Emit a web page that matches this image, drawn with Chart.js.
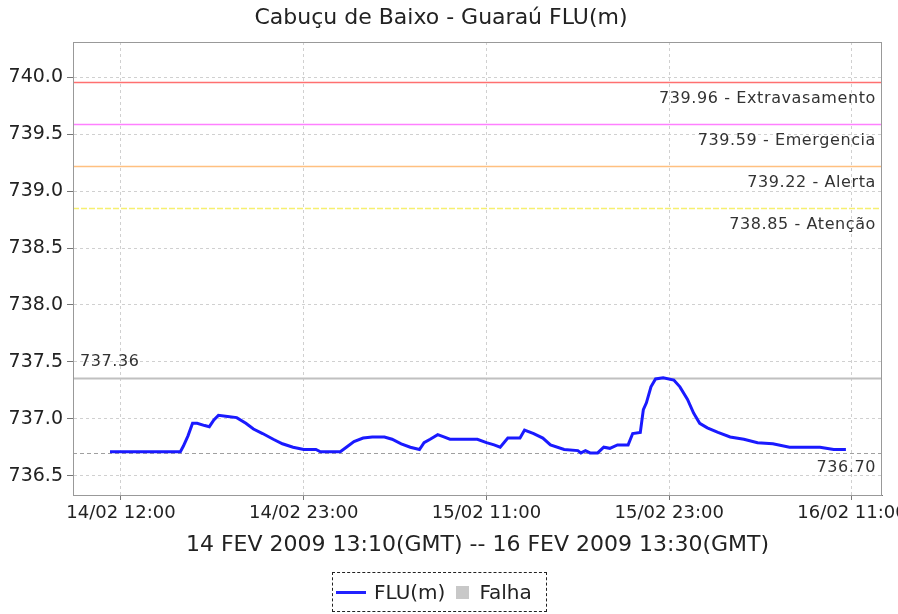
<!DOCTYPE html>
<html>
<head>
<meta charset="utf-8">
<script src="https://cdn.jsdelivr.net/npm/chart.js@4"></script>
<style>
  body { margin: 0; background: #fff; font-family: "DejaVu Sans", sans-serif; overflow: hidden; }
  #wrap { position: relative; width: 898px; height: 614px; }
  #legend {
    position: absolute; left: 332px; top: 572px; width: 213px; height: 38px;
    border: 1px dashed #222; display: flex; align-items: center;
    font-size: 20px; color: #222; white-space: nowrap;
  }
  #legend .ln { display: inline-block; width: 30px; height: 3px; background: #2222ff; margin: 0 8px 0 3px; }
  #legend .sq { display: inline-block; width: 13px; height: 13px; background: #c8c8c8; margin: 0 10px 0 11px; }
</style>
</head>
<body>
<div id="wrap">
  <canvas id="chart" width="898" height="614"></canvas>
  <div id="legend"><span class="ln"></span>FLU(m)<span class="sq"></span>Falha</div>
</div>
<script>
// hours after 14/02 12:00 (local time)
const hours = [-0.72, 0.5, 2, 3.9, 4.1, 4.4, 4.7, 5.0, 5.5, 5.8, 6.1, 6.4, 7.0, 7.6, 8.2, 8.7, 9.3, 10.0, 10.6, 11.3,
  12.0, 12.8, 13.1, 14.4, 14.8, 15.3, 15.9, 16.5, 17.3, 17.8, 18.4, 19.0, 19.6, 19.9, 20.3, 20.8, 21.2, 21.6, 22.5, 23.4,
  24.0, 24.5, 24.9, 25.4, 26.2, 26.5, 27.1, 27.7, 28.2, 29.1, 30.0, 30.2, 30.5, 30.8, 31.3, 31.7, 32.1, 32.6, 33.3, 33.6,
  34.1, 34.3, 34.5, 34.8, 35.1, 35.6, 36.3, 36.7, 37.2, 37.6, 38.0, 38.5, 39.2, 40.0, 40.9, 41.8, 42.8, 43.9, 45.9, 46.8, 47.6];
const levels = [736.71, 736.71, 736.71, 736.71, 736.76, 736.85, 736.96, 736.96, 736.94, 736.93, 736.99, 737.03, 737.02, 737.01, 736.96, 736.91, 736.87, 736.82, 736.78, 736.75,
  736.73, 736.73, 736.71, 736.71, 736.75, 736.80, 736.83, 736.84, 736.84, 736.82, 736.78, 736.75, 736.73, 736.79, 736.82, 736.86, 736.84, 736.82, 736.82, 736.82,
  736.79, 736.77, 736.75, 736.83, 736.83, 736.90, 736.87, 736.83, 736.77, 736.73, 736.72, 736.70, 736.72, 736.70, 736.70, 736.75, 736.74, 736.77, 736.77, 736.87,
  736.88, 737.08, 737.14, 737.28, 737.35, 737.36, 737.34, 737.28, 737.17, 737.05, 736.96, 736.92, 736.88, 736.84, 736.82, 736.79, 736.78, 736.75, 736.75, 736.73, 736.73];

const xTickHours = [0, 12, 24, 36, 48];
const xTickLabels = ["14/02 12:00", "14/02 23:00", "15/02 11:00", "15/02 23:00", "16/02 11:00"];
const yTicks = [736.5, 737.0, 737.5, 738.0, 738.5, 739.0, 739.5, 740.0];

const limitValues = [739.96, 739.59, 739.22, 738.85];
const limitNames = ["Extravasamento", "Emergencia", "Alerta", "Atenção"];
const limitColors = ["#ff7070", "#ff80ff", "#ffc080", "#f6f070"];
const maxLevel = 737.36;
const minLevel = 736.70;

const points = hours.map((h, i) => ({ x: h, y: levels[i] }));

// threshold lines, labels and plot frame
const refLines = {
  id: 'refLines',
  beforeDatasetsDraw(chart) {
    const { ctx, chartArea: a, scales: { y } } = chart;
    ctx.save();
    limitValues.forEach((v, i) => {
      const py = Math.round(y.getPixelForValue(v)) + 0.5;
      ctx.strokeStyle = limitColors[i];
      ctx.lineWidth = 1.5;
      ctx.setLineDash(i == 3 ? [6, 2] : []);
      ctx.beginPath(); ctx.moveTo(a.left, py); ctx.lineTo(a.right, py); ctx.stroke();
    });
    let py = Math.round(y.getPixelForValue(maxLevel)) + 0.5;
    ctx.strokeStyle = '#c0c0c0'; ctx.lineWidth = 2; ctx.setLineDash([]);
    ctx.beginPath(); ctx.moveTo(a.left, py); ctx.lineTo(a.right, py); ctx.stroke();
    py = Math.round(y.getPixelForValue(minLevel)) + 0.5;
    ctx.strokeStyle = '#a0a0a0'; ctx.lineWidth = 1; ctx.setLineDash([4, 3]);
    ctx.beginPath(); ctx.moveTo(a.left, py); ctx.lineTo(a.right, py); ctx.stroke();
    ctx.restore();
  },
  afterDatasetsDraw(chart) {
    const { ctx, chartArea: a, scales: { y } } = chart;
    ctx.save();
    ctx.font = '16px "DejaVu Sans"';
    ctx.fillStyle = '#333';
    ctx.textBaseline = 'middle';
    ctx.textAlign = 'right';
    ctx.letterSpacing = '0.6px';
    limitValues.forEach((v, i) => {
      ctx.fillText(v.toFixed(2) + ' - ' + limitNames[i], a.right - 6, y.getPixelForValue(v) + 17);
    });
    ctx.fillText(minLevel.toFixed(2), a.right - 6, y.getPixelForValue(minLevel) + 15);
    ctx.textAlign = 'left';
    ctx.fillText(maxLevel.toFixed(2), a.left + 7, y.getPixelForValue(maxLevel) - 16);
    ctx.strokeStyle = '#999';
    ctx.lineWidth = 1;
    ctx.strokeRect(a.left + 0.5, a.top + 0.5, a.right - a.left - 1, a.bottom - a.top);
    ctx.restore();
  }
};

new Chart(document.getElementById('chart'), {
  type: 'line',
  data: {
    datasets: [{
      label: 'FLU(m)',
      data: points,
      borderColor: '#1a1aff',
      borderWidth: 3,
      pointRadius: 0,
      tension: 0
    }]
  },
  options: {
    responsive: false,
    animation: false,
    layout: { padding: { left: 0, right: 16, top: 0, bottom: 56 } },
    plugins: {
      legend: { display: false },
      tooltip: { enabled: false },
      title: {
        display: true,
        text: 'Cabuçu de Baixo - Guaraú FLU(m)',
        color: '#222',
        font: { family: 'DejaVu Sans', size: 22, weight: 'normal', lineHeight: 1.2 },
        padding: { top: 5, bottom: 10.6 }
      }
    },
    scales: {
      x: {
        type: 'linear',
        min: -3.15,
        max: 49.97,
        afterBuildTicks: s => { s.ticks = xTickHours.map(v => ({ value: v })); },
        afterFit: s => { s.height = 63; s.paddingLeft = 0; s.paddingRight = 0; },
        ticks: {
          color: '#222',
          font: { family: 'DejaVu Sans', size: 18 },
          padding: 3,
          maxRotation: 0,
          autoSkip: false,
          callback: (v) => xTickLabels[xTickHours.indexOf(v)]
        },
        grid: { color: '#d0d0d0', tickColor: '#777', tickLength: 5, tickBorderDash: [] },
        border: { color: '#777', dash: [3, 3] },
        title: {
          display: true,
          text: '14 FEV 2009 13:10(GMT) -- 16 FEV 2009 13:30(GMT)',
          color: '#222',
          font: { family: 'DejaVu Sans', size: 22 },
          padding: { top: 0, bottom: 0 }
        }
      },
      y: {
        min: 736.33,
        max: 740.31,
        afterBuildTicks: s => { s.ticks = yTicks.map(v => ({ value: v })); },
        afterFit: s => { s.width = 73; },
        ticks: {
          color: '#222',
          font: { family: 'DejaVu Sans', size: 19 },
          padding: 4,
          callback: v => v.toFixed(1)
        },
        grid: { color: '#d0d0d0', tickColor: '#777', tickLength: 6, tickBorderDash: [] },
        border: { color: '#777', dash: [3, 3] }
      }
    }
  },
  plugins: [refLines]
});
</script>
</body>
</html>
